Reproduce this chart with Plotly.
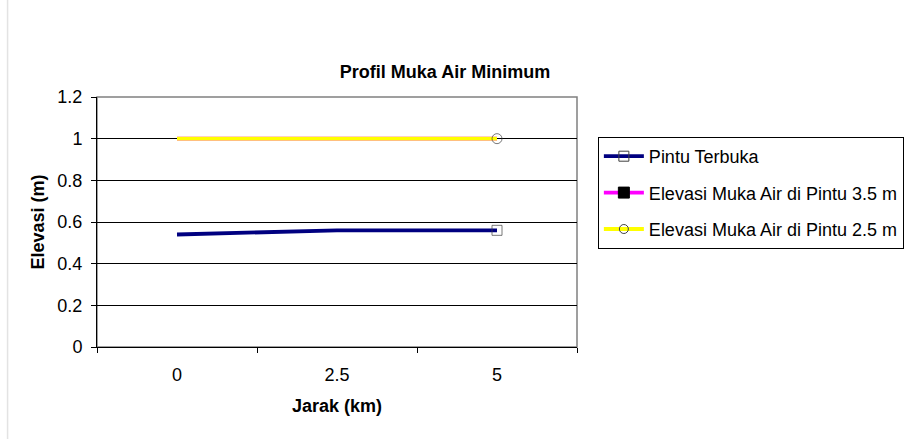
import plotly.graph_objects as go

categories = ["0", "2.5", "5"]
pintu_terbuka = [0.54, 0.56, 0.56]
elevasi_35 = [1.0, 1.0, 1.0]
elevasi_25 = [1.0, 1.0, 1.0]
series_names = ["Pintu Terbuka", "Elevasi Muka Air di Pintu 3.5 m", "Elevasi Muka Air di Pintu 2.5 m"]
y_ticks = [0, 0.2, 0.4, 0.6, 0.8, 1, 1.2]
y_ticklabels = ["0", "0.2", "0.4", "0.6", "0.8", "1", "1.2"]

FONT = "Liberation Sans, Arial, sans-serif"

fig = go.Figure()
specs = [
    ("#000080", "square-open", "#404040", 10, [0, 0, 10], [0, 0, 1]),
    ("#FF00FF", "square", "#000000", 11, [0, 0, 0], [0, 0, 0]),
    ("#FFFF00", "circle-open", "#404040", 9, [0, 0, 10], [0, 0, 1]),
]
series_vals = [pintu_terbuka, elevasi_35, elevasi_25]
for i, (vals, (col, sym, mcol, lsize, sizes, lws)) in enumerate(zip(series_vals, specs)):
    # data trace (marker only at last point)
    fig.add_trace(go.Scatter(
        x=categories, y=vals, name=series_names[i], mode="lines+markers",
        line=dict(color=col, width=3.8),
        marker=dict(symbol=sym, color=mcol, size=sizes, line=dict(width=lws, color=mcol)),
        showlegend=False, legendgroup=f"g{i}",
    ))
for i, (col, sym, mcol, lsize, sizes, lws) in enumerate(specs):
    # legend entry
    fig.add_trace(go.Scatter(
        x=[None], y=[None], name=series_names[i], mode="lines+markers",
        line=dict(color=col, width=3.8),
        marker=dict(symbol=sym, color=mcol, size=lsize, line=dict(width=1, color=mcol)),
        showlegend=True, legendgroup=f"g{i}",
    ))

# outer chart border (left edge visible)
fig.add_shape(type="line", xref="paper", yref="paper", x0=(7 - 97) / 483, x1=(7 - 97) / 483,
              y0=-0.5, y1=1.5, line=dict(color="#e3e3e3", width=1.5))
# plot area frame (gray)
fig.add_shape(type="rect", xref="paper", yref="paper", x0=0, x1=1, y0=0, y1=1,
              line=dict(color="#808080", width=1.5), layer="below")

fig.update_layout(
    width=916, height=439,
    paper_bgcolor="white", plot_bgcolor="white",
    margin=dict(l=97, r=336, t=97, b=92),
    font=dict(family=FONT, size=18, color="black"),
    title=dict(text="<b>Profil Muka Air Minimum</b>", x=445 / 916, xanchor="center",
               y=1 - 72 / 439, yanchor="middle", font=dict(size=18, family=FONT)),
    showlegend=True,
    legend=dict(x=(601 - 97) / 483, xanchor="left", y=1 - (137 - 97) / 250, yanchor="top",
                bordercolor="black", borderwidth=1, bgcolor="white",
                font=dict(size=18, family=FONT), tracegroupgap=10, itemwidth=40,
                traceorder="grouped"),
    xaxis=dict(
        type="category", range=[-0.5, 2.5], tickson="boundaries",
        ticks="outside", ticklen=5, tickcolor="black", showgrid=False,
        showline=True, linecolor="black", linewidth=1, ticklabelstandoff=11,
        title=dict(text="<b>Jarak (km)</b>", font=dict(size=18, family=FONT), standoff=15),
        tickfont=dict(size=18), fixedrange=True,
    ),
    yaxis=dict(
        range=[0, 1.2], tickvals=y_ticks, ticktext=y_ticklabels,
        ticks="outside", ticklen=5, tickcolor="black", ticklabelstandoff=5,
        showgrid=True, gridcolor="#000000", gridwidth=1,
        showline=True, linecolor="black", linewidth=1, zeroline=False,
        title=dict(text="<b>Elevasi (m)</b>", font=dict(size=18, family=FONT), standoff=8),
        tickfont=dict(size=18),
    ),
)

fig.write_html("out.html", config={"displayModeBar": False},
               post_script="document.body.style.margin='0px';")
